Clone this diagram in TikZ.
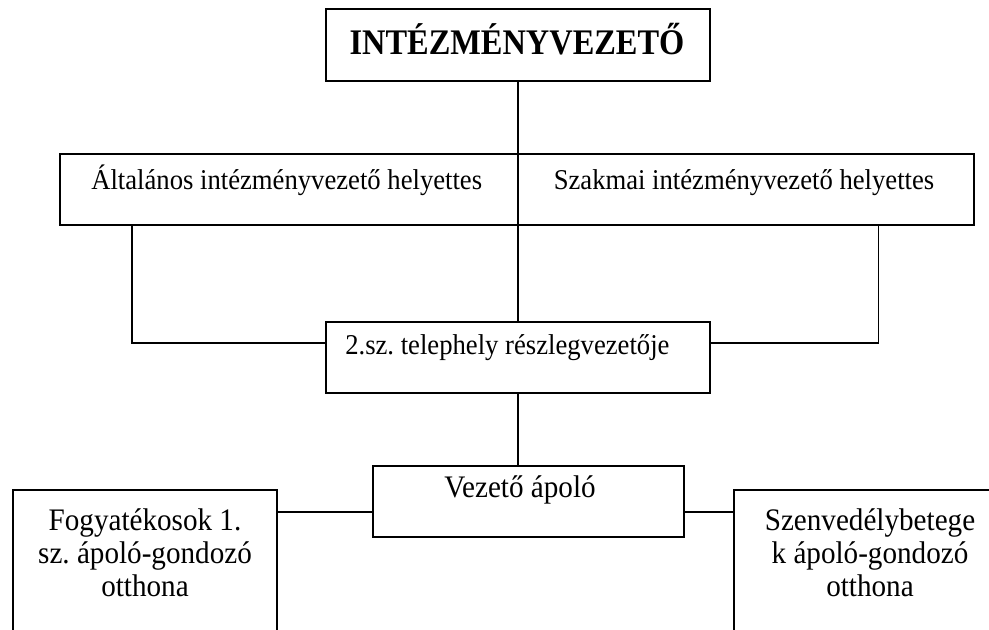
\documentclass[tikz,border=0pt]{standalone}
\usepackage{fontspec}
\setmainfont{Liberation Serif}
\newfontfamily\condbold[FakeStretch=0.9]{Liberation Serif}
\newfontfamily\condmid[FakeStretch=0.93]{Liberation Serif}
\frenchspacing
\usetikzlibrary{calc}
\begin{document}
\begin{tikzpicture}[x=0.75pt,y=-0.75pt,
  box/.style={draw, line width=1.2pt, inner sep=0pt, anchor=north west},
  conn/.style={line width=1.2pt},
  lbl/.style={inner sep=0pt, anchor=base},
  bigtxt/.style={font=\condmid\fontsize{23.5}{24.75}\selectfont},
  midtxt/.style={font=\condmid\fontsize{21.5}{24}\selectfont}]
\useasboundingbox (0,0) rectangle (989,630);
\clip (0,0) rectangle (989,630);
% boxes
\node[box, minimum width=384*0.75pt, minimum height=72*0.75pt] (top) at (325,8) {};
\node[box, minimum width=458*0.75pt, minimum height=71*0.75pt] (rowL) at (59,153) {};
\node[box, minimum width=456*0.75pt, minimum height=71*0.75pt] (rowR) at (517,153) {};
\node[box, minimum width=384*0.75pt, minimum height=71*0.75pt] (mid) at (325,321) {};
\node[box, minimum width=311*0.75pt, minimum height=71*0.75pt] (vez) at (372,465) {};
\node[box, minimum width=264*0.75pt, minimum height=200*0.75pt] (lb) at (12,489) {};
\node[box, minimum width=274*0.75pt, minimum height=200*0.75pt] (rb) at (733,489) {};
% texts
\node[lbl, font=\condbold\fontsize{27}{30}\selectfont\bfseries] (tTop) at (517,55) {INTÉZMÉNYVEZETŐ};
\node[lbl, midtxt, anchor=base west] (tRowL) at (91,190) {Általános intézményvezető helyettes};
\node[lbl, midtxt] (tRowR) at (744,190) {Szakmai intézményvezető helyettes};
\node[lbl, midtxt, anchor=base west] (tMid) at (345,355) {2.sz. telephely részlegvezetője};
\node[lbl, bigtxt] (tVez) at (520,498) {Vezető ápoló};
\node[lbl, bigtxt, align=center] (tLb) at (145,596) {Fogyatékosok 1.\\sz. ápoló-gondozó\\otthona};
\node[lbl, bigtxt, align=center] (tRb) at (870,596) {Szenvedélybetege\\k ápoló-gondozó\\otthona};
% connectors
\draw[conn] (top.south) -- (mid.north);
\draw[conn] ($(rowL.south west)+(73,0)$) |- ($(mid.north west)+(0,22)$);
\draw[conn] ($(rowR.south east)+(-96,0)$) |- ($(mid.north east)+(0,22)$);
\draw[conn] (mid.south) -- (mid.south |- vez.north);
\draw[conn] ($(lb.north east)+(0,23)$) -- ($(vez.north west)+(0,47)$);
\draw[conn] ($(vez.north east)+(0,47)$) -- ($(rb.north west)+(0,23)$);
\end{tikzpicture}
\end{document}
